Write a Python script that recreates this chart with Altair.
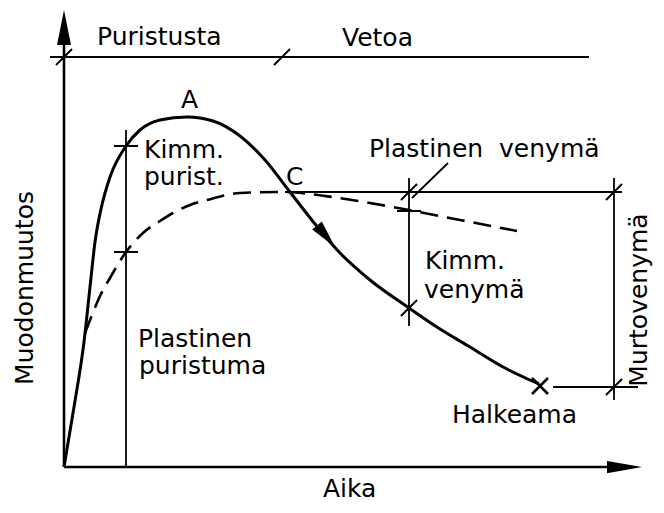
import altair as alt
import pandas as pd

# Schematic units: t = time (aika), d = deformation (muodonmuutos)
solid_t = [0, 10, 20, 26, 31, 37, 46, 62, 76, 96, 123, 149, 176, 201, 226, 251, 276, 306, 345, 376, 406, 441, 475]
solid_d = [0, 60, 125, 180, 225, 258, 290, 321, 337, 347, 350, 346, 331, 307, 275, 243, 214, 187, 159, 138, 120, 99, 83]

dash_t = [21, 28, 36, 46, 62, 79, 96, 109, 126, 143, 176, 219, 246, 268, 306, 345, 396, 453]
dash_d = [134, 152, 171, 189, 215, 234, 246, 254, 262, 267, 274, 275, 273, 270, 264, 257, 247, 236]

# axes and guide segments (t, d, t2, d2)
axis_seg = [(0, 0, 0, 422), (0, 0, 550, 0)]
guide_seg = [(-14, 410, 525, 410), (62, 337, 62, 0), (221, 275, 558, 275),
             (345, 289, 345, 141), (550, 289, 550, 67), (489, 80, 574, 80),
             (348, 269, 384, 304)]

slash_t = [0, 218, 345, 550, 550, 345]
slash_d = [410, 410, 275, 275, 80, 159]
flat_t = [62, 62, 345]
flat_d = [321, 215, 256]
cross_t = [476]
cross_d = [81]

labels = ["Puristusta", "Vetoa", "A", "Kimm.", "purist.", "C", "Plastinen\u00a0\u00a0venymä",
          "Kimm.", "venymä", "Plastinen", "puristuma", "Halkeama", "Aika"]
label_t = [33, 278, 117, 80, 80, 222, 305, 361, 360, 74, 75, 388, 259]
label_d = [422, 421, 359, 309, 282, 282, 310, 198, 169, 120, 93, 44, -30]

vlabels = ["Muodonmuutos", "Murtovenymä"]
vlabel_t = [-31, 583]
vlabel_d = [179, 167]

XS = alt.Scale(domain=[-56, 592], nice=False, zero=False)
YS = alt.Scale(domain=[-38, 459], nice=False, zero=False)
FONT = "DejaVu Sans"
FS = 25


def X(f="t"):
    return alt.X(f"{f}:Q", scale=XS, axis=None)


def Y(f="d"):
    return alt.Y(f"{f}:Q", scale=YS, axis=None)


solid_df = pd.DataFrame({"t": solid_t, "d": solid_d, "i": range(len(solid_t))})
dash_df = pd.DataFrame({"t": dash_t, "d": dash_d, "i": range(len(dash_t))})
axis_df = pd.DataFrame(axis_seg, columns=["t", "d", "t2", "d2"])
guide_df = pd.DataFrame(guide_seg, columns=["t", "d", "t2", "d2"])

solid = alt.Chart(solid_df).mark_line(color="black", strokeWidth=3, interpolate="monotone").encode(
    x=X(), y=Y(), order="i:Q")
dashed = alt.Chart(dash_df).mark_line(color="black", strokeWidth=2.6, strokeDash=[18, 9],
                                      interpolate="monotone").encode(x=X(), y=Y(), order="i:Q")
axes = alt.Chart(axis_df).mark_rule(color="black", strokeWidth=2.6).encode(
    x=X(), y=Y(), x2="t2:Q", y2="d2:Q")
guides = alt.Chart(guide_df).mark_rule(color="black", strokeWidth=1.8).encode(
    x=X(), y=Y(), x2="t2:Q", y2="d2:Q")

slashes = alt.Chart(pd.DataFrame({"t": slash_t, "d": slash_d})).mark_point(
    shape="M-1,1L1,-1", size=256, filled=False, stroke="black", strokeWidth=2, opacity=1
).encode(x=X(), y=Y())
flats = alt.Chart(pd.DataFrame({"t": flat_t, "d": flat_d})).mark_point(
    shape="M-1,0L1,0", size=576, filled=False, stroke="black", strokeWidth=2, opacity=1
).encode(x=X(), y=Y())
crosses = alt.Chart(pd.DataFrame({"t": cross_t, "d": cross_d})).mark_point(
    shape="M-1,1L1,-1M-1,-1L1,1", size=256, filled=False, stroke="black", strokeWidth=2.5, opacity=1
).encode(x=X(), y=Y())

yarrow = alt.Chart(pd.DataFrame({"t": [0], "d": [439.5]})).mark_point(
    shape="M0,-1L0.4,1L-0.4,1Z", size=1225, filled=True, color="black", opacity=1, strokeWidth=0
).encode(x=X(), y=Y())
xarrow = alt.Chart(pd.DataFrame({"t": [560.5], "d": [0]})).mark_point(
    shape="M1,0L-1,0.35L-1,-0.35Z", size=1225, filled=True, color="black", opacity=1, strokeWidth=0
).encode(x=X(), y=Y())
carrow = alt.Chart(pd.DataFrame({"t": [262], "d": [230.7]})).mark_point(
    shape="M0,-1L0.45,1L-0.45,1Z", size=784, angle=140, filled=True, color="black", opacity=1,
    strokeWidth=0
).encode(x=X(), y=Y())

texts = alt.Chart(pd.DataFrame({"t": label_t, "d": label_d, "s": labels})).mark_text(
    align="left", baseline="alphabetic", font=FONT, fontSize=FS, color="black"
).encode(x=X(), y=Y(), text="s:N")
vtexts = alt.Chart(pd.DataFrame({"t": vlabel_t, "d": vlabel_d, "s": vlabels})).mark_text(
    align="center", baseline="alphabetic", font=FONT, fontSize=FS, color="black", angle=270
).encode(x=X(), y=Y(), text="s:N")

chart = alt.layer(
    guides, axes, dashed, solid, slashes, flats, crosses, yarrow, xarrow, carrow, texts, vtexts
).properties(
    width=648, height=497, padding=0, autosize="none", background="white"
).configure_view(strokeWidth=0)

chart.save("out.html", embed_options={"renderer": "svg", "actions": False})
